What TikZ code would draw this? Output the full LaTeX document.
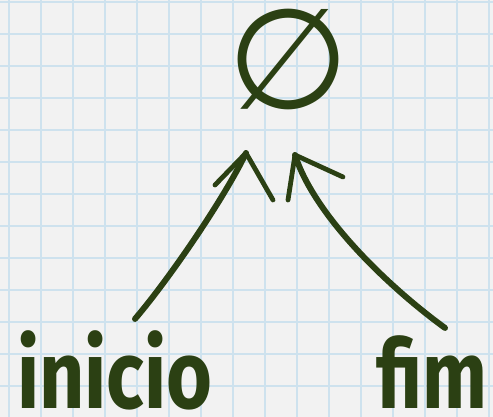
\documentclass[tikz,border=0pt]{standalone}
\usepackage{fontspec}
\usepackage{xcolor}
\usepackage{tikz}
\usetikzlibrary{arrows.meta,positioning,calc}
\setmainfont{Fira Sans}
\newfontfamily\symfont{DejaVu Sans}
\definecolor{brushGreen}{RGB}{43,64,19}
\definecolor{paperGray}{RGB}{242,242,242}
\definecolor{gridBlue}{RGB}{206,226,238}
\tikzset{
  % paper and grid
  paper/.style={fill=paperGray, draw=none},
  gridline/.style={draw=gridBlue, line width=1.8pt},
  % hand-drawn arrows
  brush/.style={draw=brushGreen, line width=6pt, line cap=round, line join=round},
  barb/.style={draw=brushGreen, line width=4.8pt, line cap=round},
  word/.style={
    text=brushGreen,
    inner sep=0pt,
    anchor=base,
    font=\fontsize{96}{96}\selectfont\bfseries
  },
  setsym/.style={
    text=brushGreen,
    inner sep=0pt,
    font=\symfont\fontsize{140}{140}\selectfont
  }
}
\begin{document}
\begin{tikzpicture}[x=1pt,y=1pt]

\fill[paper] (0,0) rectangle (493,417);
\useasboundingbox (0,0) rectangle (493,417);
\foreach \gx in {0,...,15}
  \draw[gridline] (9+32*\gx,0) -- (9+32*\gx,417);
\foreach \gy in {0,...,12}
  \draw[gridline] (0,415-32*\gy) -- (493,415-32*\gy);

\node[setsym] (empty) at (288,358) {∅};

\node[word] (inicio) at (115,8) {\scalebox{0.82}[1]{inicio}};
\node[word] (fim) at (432,8) {\scalebox{0.8}[1]{fim}};

\coordinate (tipL) at (246,264);
\coordinate (tipR) at (295,262);

\draw[brush] ([xshift=20pt,yshift=12pt]inicio.north) .. controls +(35,41) and +(-21,-44) .. (tipL);
\draw[barb] (tipL) -- +(-31,-32);
\draw[barb] (tipL) -- +(27,-47);

\draw[brush] ([xshift=13pt,yshift=8pt]fim.north) .. controls +(-55,40) and +(20,-62) .. (tipR);
\draw[barb] (tipR) -- +(-7,-45);
\draw[barb] (tipR) -- +(48,-22);

\end{tikzpicture}
\end{document}
